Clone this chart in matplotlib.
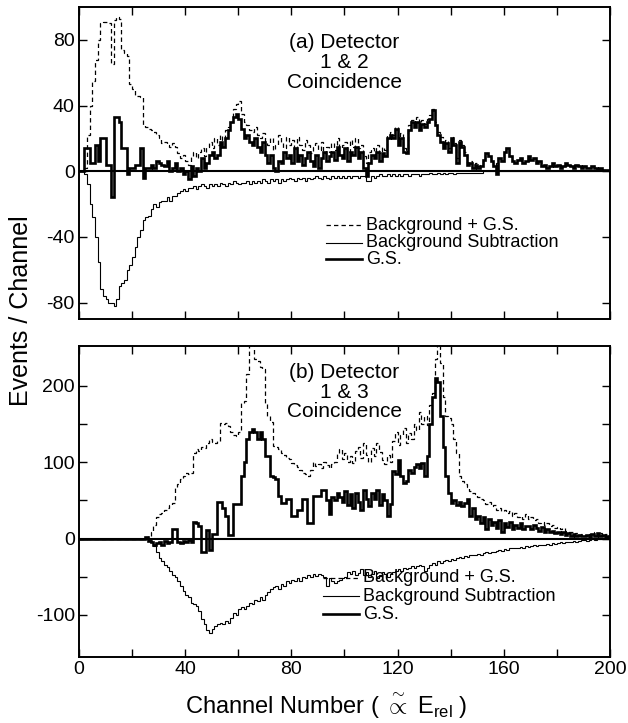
import numpy as np
import matplotlib
matplotlib.use("Agg")
import matplotlib.pyplot as plt

plt.rcParams['font.family'] = ['Liberation Sans', 'DejaVu Sans']
plt.rcParams['mathtext.fontset'] = 'custom'
plt.rcParams['mathtext.rm'] = 'Liberation Sans'
plt.rcParams['mathtext.it'] = 'Liberation Sans:italic'
plt.rcParams['mathtext.bf'] = 'Liberation Sans:bold'

# ---------------- data (1 channel per bin, channels 0..199) ----------------
channel_edges = list(range(0, 201))

# Panel (a): Detector 1 & 2
total_a = [
    0, 0, 2, 22, 40, 55, 68, 80, 90, 91,
    91, 90, 65, 92, 94, 93, 74, 72, 70, 53,
    50, 46, 46, 45, 28, 27, 26, 25, 24, 22,
    20, 17, 18, 16, 15, 17, 15, 11, 8, 10,
    6, 4, 9, 12, 8, 12, 14, 9, 15, 18,
    14, 20, 16, 22, 19, 25, 27, 30, 38, 41,
    43, 35, 30, 28, 25, 24, 27, 22, 20, 23,
    18, 16, 20, 13, 16, 22, 18, 14, 21, 16,
    19, 13, 21, 16, 13, 19, 16, 11, 15, 17,
    13, 18, 11, 15, 12, 17, 13, 20, 14, 16,
    18, 12, 19, 15, 20, 14, 16, 9, 5, 12,
    14, 12, 16, 11, 15, 13, 22, 24, 22, 27,
    18, 23, 14, 13, 28, 31, 29, 33, 27, 31,
    29, 32, 34, 38, 30, 24, 21, 16, 19, 14,
    21, 17, 8, 19, 16, 12, 5, 6, 4, 5,
    3, 4, 7, 11, 9, 6, 3, 5, 8, 6,
    12, 14, 9, 6, 5, 7, 8, 5, 6, 9,
    7, 8, 5, 6, 3, 4, 2, 3, 5, 3,
    4, 2, 3, 5, 4, 3, 2, 4, 3, 2,
    3, 2, 2, 3, 2, 1, 2, 1, 1, 1,
]
bgsub_a = [
    0, 0, -2, -8, -20, -28, -40, -55, -72, -76,
    -78, -80, -80, -82, -78, -70, -68, -66, -60, -57,
    -52, -46, -40, -36, -30, -28, -27, -23, -20, -22,
    -19, -18, -18, -16, -18, -15, -15, -13, -12, -11,
    -12, -10, -10, -9, -11, -9, -8, -9, -10, -8,
    -9, -8, -9, -7, -8, -9, -7, -8, -6, -7,
    -8, -7, -7, -6, -8, -6, -7, -6, -7, -5,
    -6, -7, -5, -6, -5, -7, -5, -6, -5, -4,
    -5, -6, -4, -5, -4, -6, -4, -5, -4, -3,
    -4, -5, -3, -4, -5, -3, -4, -3, -4, -3,
    -4, -3, -4, -3, -3, -4, -3, -3, -6, -6,
    -3, -4, -3, -2, -3, -3, -2, -3, -2, -3,
    -2, -3, -2, -2, -3, -2, -2, -2, -3, -2,
    -2, -2, -1, -2, -2, -1, -2, -1, -2, -1,
    -1, -2, -1, -1, -1, -1, -1, -1, -1, -1,
    -1, -1, 0, 0, 0, 0, 0, 0, 0, 0,
    0, 0, 0, 0, 0, 0, 0, 0, 0, 0,
    0, 0, 0, 0, 0, 0, 0, 0, 0, 0,
    0, 0, 0, 0, 0, 0, 0, 0, 0, 0,
    0, 0, 0, 0, 0, 0, 0, 0, 0, 0,
]
gs_a = [
    0, 0, 14, 14, 5, 5, 16, 6, 20, 20,
    4, 4, -16, 33, 33, 30, 14, 14, -2, 2,
    2, 4, 4, 14, -4, 2, 2, 4, 2, 6,
    5, 4, 3, 6, 0, 2, 5, 0, 2, -2,
    0, -5, 3, -3, 2, 0, 8, 2, 5, 10,
    12, 8, 10, 18, 15, 20, 25, 30, 33, 35,
    32, 26, 20, 22, 18, 16, 20, 15, 12, 18,
    10, 5, 10, 2, 0, 6, 5, 12, 8, 10,
    5, 14, 6, 10, 4, 8, 12, 6, 3, 10,
    2, 8, 12, 6, 9, 12, 7, 15, 10, 8,
    14, 6, 12, 10, 15, 8, 12, 2, -3, 5,
    10, 8, 12, 6, 11, 9, 20, 22, 20, 26,
    16, 20, 12, 11, 25, 30, 27, 30, 25, 29,
    27, 30, 32, 37, 28, 22, 18, 14, 17, 12,
    20, 16, 5, 18, 15, 10, 4, 5, 2, 4,
    2, 3, 7, 11, 9, 6, 3, -2, 8, 6,
    12, 14, 9, 6, 5, 7, 8, 5, 6, 9,
    7, 8, 5, 6, 3, 4, 2, 3, 5, 3,
    4, 2, 3, 5, 4, 3, 2, 4, 3, 2,
    3, 2, 2, 3, 2, 1, 2, 1, 1, 1,
]

# Panel (b): Detector 1 & 3
total_b = [
    0, 0, 0, 0, 0, 0, 0, 0, 0, 0,
    0, 0, 0, 0, 0, 0, 0, 0, 0, 0,
    0, 0, 0, 0, 0, 2, 4, 8, 18, 28,
    32, 34, 38, 40, 44, 46, 68, 72, 78, 82,
    86, 84, 86, 112, 117, 115, 120, 118, 125, 130,
    127, 125, 128, 151, 150, 151, 147, 140, 136, 134,
    140, 178, 180, 215, 260, 260, 235, 232, 225, 222,
    178, 160, 152, 121, 120, 117, 112, 110, 106, 104,
    99, 96, 94, 90, 86, 84, 82, 90, 100, 95,
    98, 92, 100, 96, 92, 98, 100, 112, 117, 104,
    112, 100, 108, 99, 115, 120, 105, 125, 110, 100,
    118, 108, 125, 113, 103, 98, 110, 100, 128, 140,
    122, 135, 145, 125, 138, 130, 150, 142, 165, 150,
    160, 148, 175, 190, 235, 260, 230, 185, 160, 158,
    150, 130, 112, 82, 75, 72, 68, 62, 60, 58,
    55, 52, 50, 45, 48, 42, 44, 38, 40, 36,
    38, 34, 36, 30, 33, 28, 30, 26, 32, 25,
    28, 24, 26, 20, 22, 18, 20, 16, 18, 14,
    15, 12, 14, 10, 8, 9, 6, 7, 5, 6,
    4, 5, 6, 3, 8, 5, 7, 4, 6, 3,
]
bgsub_b = [
    0, 0, 0, 0, 0, 0, 0, 0, 0, 0,
    0, 0, 0, 0, 0, 0, 0, 0, 0, 0,
    0, 0, 0, 0, 0, 0, -2, -5, -10, -18,
    -25, -30, -34, -37, -42, -48, -50, -56, -62, -68,
    -74, -76, -84, -86, -88, -95, -105, -112, -120, -124,
    -118, -114, -112, -110, -112, -108, -110, -104, -98, -100,
    -92, -90, -92, -88, -84, -86, -80, -82, -76, -80,
    -74, -70, -66, -64, -62, -66, -60, -62, -56, -58,
    -54, -56, -52, -55, -50, -52, -48, -50, -47, -49,
    -46, -48, -50, -62, -52, -55, -58, -56, -54, -52,
    -50, -44, -46, -42, -48, -45, -40, -48, -44, -50,
    -46, -42, -52, -48, -44, -46, -50, -46, -44, -42,
    -40, -42, -38, -40, -38, -36, -38, -36, -34, -36,
    -42, -38, -34, -32, -34, -30, -32, -30, -28, -29,
    -27, -28, -26, -24, -25, -23, -24, -22, -21, -22,
    -20, -21, -19, -18, -19, -17, -18, -16, -15, -16,
    -14, -15, -13, -12, -13, -12, -11, -12, -10, -11,
    -10, -9, -10, -8, -9, -8, -7, -8, -6, -7,
    -6, -5, -6, -4, -5, -4, -3, -4, -3, -2,
    -2, -3, -2, -1, -2, -1, -1, 0, -1, 0,
]
gs_b = [
    0, 0, 0, 0, 0, 0, 0, 0, 0, 0,
    0, 0, 0, 0, 0, 0, 0, 0, 0, 0,
    0, 0, 0, 0, 0, 2, -3, -5, -8, -6,
    -5, -8, -3, -6, -5, 13, 13, -4, -6, -3,
    -5, -2, -4, 22, 20, 16, -17, -17, 11, -15,
    6, 6, 48, 48, 40, 29, 5, 5, 45, 45,
    45, 82, 100, 130, 140, 143, 140, 130, 140, 130,
    108, 108, 82, 80, 78, 56, 47, 47, 52, 52,
    30, 30, 38, 38, 52, 52, 20, 20, 56, 56,
    56, 64, 64, 50, 32, 55, 50, 60, 55, 48,
    62, 44, 58, 40, 60, 48, 38, 64, 52, 42,
    60, 52, 64, 44, 58, 50, 30, 45, 88, 85,
    103, 82, 73, 75, 90, 86, 94, 98, 92, 99,
    82, 108, 150, 185, 210, 205, 160, 120, 82, 60,
    46, 50, 44, 48, 42, 46, 52, 30, 40, 26,
    29, 20, 28, 12, 25, 18, 22, 14, 24, 8,
    20, 15, 22, 12, 18, 14, 20, 13, 17, 16,
    12, 18, 14, 10, 15, 9, 12, 8, 10, 7,
    9, 6, 8, 5, 7, 4, 6, 3, 5, 4,
    3, 5, 2, 6, 4, 7, 3, 5, 2, 4,
]

legend_labels = ["Background + G.S.", "Background Subtraction", "G.S."]
x_ticks = list(range(0, 201, 20))
x_ticklabels = ["0", "", "40", "", "80", "", "120", "", "160", "", "200"]
ya_ticks = [-80, -40, 0, 40, 80]
yb_ticks = [-100, -50, 0, 50, 100, 150, 200]
yb_ticklabels = ["-100", "", "0", "", "100", "", "200"]

# ---------------- figure ----------------
fig = plt.figure(figsize=(6.28, 7.23), dpi=100)
ax1 = fig.add_axes([0.1258, 0.5588, 0.8455, 0.4315])
ax2 = fig.add_axes([0.1258, 0.0913, 0.8455, 0.4301])

dash_style = (0, (3.5, 2.5))

def draw_panel(ax, total, bgsub, gs, ylim, yticks, yticklabels, title, title_y, leg_x, leg_ys):
    ax.stairs(bgsub, channel_edges, baseline=None, color='black', lw=0.8)
    ax.stairs(total, channel_edges, baseline=None, color='black', lw=0.9, linestyle=dash_style)
    ax.stairs(gs, channel_edges, baseline=None, color='black', lw=1.9)
    ax.axhline(0, color='black', lw=1.5)
    ax.set_xlim(0, 200)
    ax.set_ylim(*ylim)
    ax.set_xticks(x_ticks)
    ax.set_yticks(yticks)
    ax.set_yticklabels(yticklabels)
    ax.tick_params(direction='in', length=6, width=1.0, top=True, right=True,
                   labelsize=14, pad=3)
    for s in ax.spines.values():
        s.set_linewidth(1.4)
    ax.text(100, title_y, title, ha='center', va='top', fontsize=15,
            linespacing=1.05, transform=ax.transData)
    styles = [dict(lw=0.9, linestyle=dash_style), dict(lw=0.8), dict(lw=1.9)]
    for lab, yy, st in zip(legend_labels, leg_ys, styles):
        ax.plot([leg_x, leg_x + 0.068], [yy, yy], color='black',
                transform=ax.transAxes, clip_on=False, **st)
        ax.text(leg_x + 0.075, yy, lab, transform=ax.transAxes,
                ha='left', va='center', fontsize=13)

draw_panel(ax1, total_a, bgsub_a, gs_a, (-90, 100), ya_ticks,
           [str(v) for v in ya_ticks], "(a) Detector\n1 & 2\nCoincidence", 84,
           0.465, [0.300, 0.245, 0.192])
ax1.set_xticklabels([])

draw_panel(ax2, total_b, bgsub_b, gs_b, (-155, 252), yb_ticks, yb_ticklabels,
           "(b) Detector\n1 & 3\nCoincidence", 230,
           0.460, [0.255, 0.196, 0.138])
ax2.set_xticklabels(x_ticklabels)

fig.text(0.034, 0.57, "Events / Channel", rotation=90, ha='center', va='center',
         fontsize=18)
fig.text(0.52, 0.024, r"Channel Number ( $\overset{\sim}{\propto}$ E$_{\rm rel}$ )",
         ha='center', va='center', fontsize=17)

fig.savefig("out.png", dpi=100)
